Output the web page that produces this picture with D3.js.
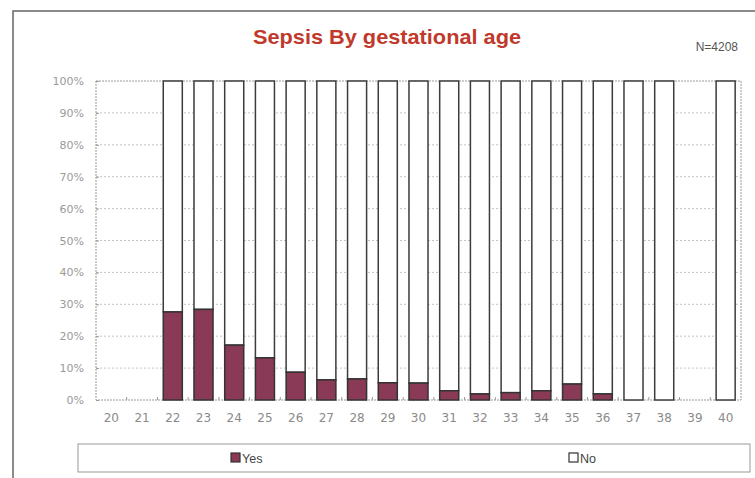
<!DOCTYPE html>
<html>
<head>
<meta charset="utf-8">
<script src="https://cdn.jsdelivr.net/npm/d3@7/dist/d3.min.js"></script>
<style>
  html, body { margin: 0; padding: 0; background: #fff; }
  svg { display: block; }
</style>
</head>
<body>
<svg id="chart" width="755" height="478"></svg>
<script>
// ---- data ----
const categories = ["20","21","22","23","24","25","26","27","28","29","30","31","32","33","34","35","36","37","38","39","40"];
// percentage of "Yes" (sepsis) per gestational age; null = no infants
const yesPct = [null, null, 27.6, 28.4, 17.2, 13.2, 8.7, 6.3, 6.6, 5.4, 5.3, 2.9, 1.9, 2.3, 2.9, 5.0, 1.9, 0, 0, null, 0];
const seriesNames = ["Yes", "No"];
const yTicks = [0, 10, 20, 30, 40, 50, 60, 70, 80, 90, 100];
const titleText = "Sepsis By gestational age";
const noteText = "N=4208";

// ---- layout ----
const svg = d3.select("#chart");
const plot = { left: 96, right: 741, top: 81, bottom: 400 };
const yesColor = "#8a3a57";

// outer frame
svg.append("rect").attr("x", 13).attr("y", 11).attr("width", 760).attr("height", 480)
  .attr("fill", "none").attr("stroke", "#666").attr("stroke-width", 1.5);

const x = d3.scaleBand().domain(categories).range([plot.left, plot.right])
  .paddingInner(0.38).paddingOuter(0.19);
const y = d3.scaleLinear().domain([0, 100]).range([plot.bottom, plot.top]);

// gridlines
svg.append("g").selectAll("line").data(yTicks.filter(t => t > 0 && t < 100)).join("line")
  .attr("x1", plot.left).attr("x2", plot.right)
  .attr("y1", d => y(d)).attr("y2", d => y(d))
  .attr("stroke", "#c4c4c4").attr("stroke-width", 1).attr("stroke-dasharray", "2,2");

// plot border (dotted)
svg.append("rect").attr("x", plot.left).attr("y", plot.top)
  .attr("width", plot.right - plot.left).attr("height", plot.bottom - plot.top)
  .attr("fill", "none").attr("stroke", "#9a9a9a").attr("stroke-width", 1).attr("stroke-dasharray", "2,1");

// y axis
const yAxis = d3.axisLeft(y).tickValues(yTicks).tickSize(3).tickFormat(d => d + "%");
const gy = svg.append("g").attr("transform", `translate(${plot.left},0)`).call(yAxis);
gy.select(".domain").remove();
gy.selectAll(".tick line").attr("stroke", "#999").attr("x2", 3).attr("x1", 0);
gy.selectAll(".tick text").attr("x", -12).attr("fill", "#9a9a9a")
  .style("font-family", "'DejaVu Sans', Verdana, sans-serif").style("font-size", "11px");

// x axis
const xAxis = d3.axisBottom(x).tickSize(0).tickPadding(13);
const gx = svg.append("g").attr("transform", `translate(0,${plot.bottom})`).call(xAxis);
gx.select(".domain").remove();
gx.selectAll(".tick text").attr("fill", "#8a8a8a")
  .style("font-family", "'DejaVu Sans', Verdana, sans-serif").style("font-size", "12px");
// small boundary ticks
svg.append("g").selectAll("line").data(categories.slice(1)).join("line")
  .attr("x1", d => x(d) - x.step() * x.paddingInner() / 2)
  .attr("x2", d => x(d) - x.step() * x.paddingInner() / 2)
  .attr("y1", plot.bottom).attr("y2", plot.bottom - 3)
  .attr("stroke", "#999");

// bars
const rows = categories.map((c, i) => ({ cat: c, yes: yesPct[i] })).filter(d => d.yes !== null);
const bars = svg.append("g");
bars.selectAll("rect.no").data(rows).join("rect").attr("class", "no")
  .attr("x", d => x(d.cat)).attr("width", x.bandwidth())
  .attr("y", y(100)).attr("height", d => y(d.yes) - y(100))
  .attr("fill", "#fff").attr("stroke", "#3c3c3c").attr("stroke-width", 1.5);
bars.selectAll("rect.yes").data(rows.filter(d => d.yes > 0)).join("rect").attr("class", "yes")
  .attr("x", d => x(d.cat)).attr("width", x.bandwidth())
  .attr("y", d => y(d.yes)).attr("height", d => y(0) - y(d.yes))
  .attr("fill", yesColor).attr("stroke", "#333").attr("stroke-width", 1.5);

// title
const title = svg.append("text").attr("x", 387).attr("y", 44).attr("text-anchor", "middle")
  .attr("fill", "#c0392b").style("font-family", "'Liberation Sans', Arial, sans-serif")
  .style("font-weight", "bold").style("font-size", "21px").text(titleText);
title.attr("textLength", 268).attr("lengthAdjust", "spacingAndGlyphs");

svg.append("text").attr("x", 738).attr("y", 51).attr("text-anchor", "end")
  .attr("fill", "#555").style("font-family", "'Liberation Sans', Arial, sans-serif")
  .style("font-size", "12px").text(noteText);

// legend
svg.append("rect").attr("x", 78).attr("y", 444).attr("width", 672).attr("height", 28)
  .attr("fill", "#fff").attr("stroke", "#999").attr("stroke-width", 1);
const legendX = [231, 569];
const lg = svg.append("g").selectAll("g").data(seriesNames).join("g")
  .attr("transform", (d, i) => `translate(${legendX[i]},453)`);
lg.append("rect").attr("width", 9).attr("height", 9)
  .attr("fill", (d, i) => i === 0 ? yesColor : "#fff").attr("stroke", "#333").attr("stroke-width", 1.2);
lg.append("text").attr("x", 11).attr("y", 9.5).attr("fill", "#444")
  .style("font-family", "'Liberation Sans', Arial, sans-serif").style("font-size", "12.5px")
  .text(d => d);
</script>
</body>
</html>
